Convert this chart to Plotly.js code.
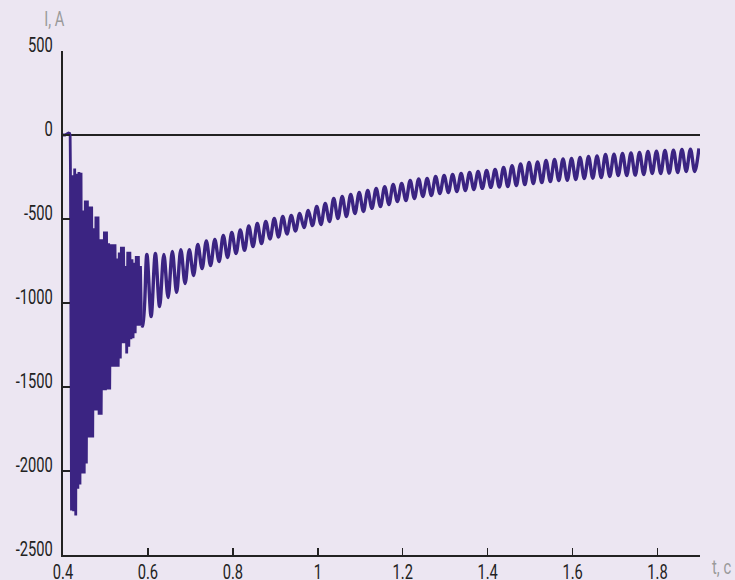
<!DOCTYPE html>
<html><head><meta charset="utf-8">
<script src="https://cdn.plot.ly/plotly-3.0.1.min.js"></script>
<style>html,body{margin:0;padding:0;background:#ece6f2;}</style>
</head><body><div id="chart" style="width:735px;height:580px;"></div>
<script>
// Pre-fault samples (time, current)
const preT = [0.400, 0.405, 0.410, 0.413, 0.4155, 0.4168];
const preI = [0, 0, 8, 12, 10, 0];

// Dense transient section: alternating upper / lower excursions, sampled every 0.0025 s
const denseStart = 0.4175;
const denseStep = 0.0025;
const denseHi = [-200, -240, -200, -230, -220, -225, -450, -390, -390, -425, -425, -555, -485, -485, -620, -620, -575,
  -575, -645, -650, -650, -650, -735, -700, -665, -665, -780, -695, -695, -740, -760, -720, -720, -780];
const denseLo = [-2235, -2240, -2265, -2105, -2080, -2015, -2015, -1955, -1800, -1800, -1800, -1640, -1640, -1665,
  -1665, -1520, -1520, -1515, -1515, -1380, -1380, -1380, -1380, -1330, -1240, -1240, -1300, -1260, -1215, -1210,
  -1180, -1135, -1135, -1135];

// 50 Hz section: troughs and peaks, half-period 0.01 s
const waveStart = 0.5875;
const waveStep = 0.01;
const waveTrough = [-1137, -1080, -1021, -967, -937, -884, -836, -795, -777, -753, -729, -705, -687, -664, -646, -619,
  -607, -589, -571, -551, -539, -533, -515, -497, -485, -467, -455, -437, -426, -414, -396, -390, -378, -366, -360,
  -348, -342, -336, -330, -324, -318, -312, -310, -307, -301, -295, -289, -283, -277, -271, -270, -265, -259, -257,
  -253, -247, -241, -241, -239, -235, -229, -229, -227, -223, -217, -217];
const wavePeak = [-711, -705, -711, -693, -682, -682, -652, -631, -622, -598, -580, -565, -542, -527, -515, -497, -485,
  -479, -467, -449, -426, -408, -378, -366, -354, -342, -330, -318, -307, -295, -289, -271, -262, -259, -247, -241,
  -235, -229, -223, -217, -211, -205, -193, -182, -173, -164, -160, -152, -146, -143, -140, -134, -128, -125, -116,
  -114, -110, -107, -104, -98, -96, -92, -90, -86, -84, -80];

const xTickVals = [0.4, 0.6, 0.8, 1.0, 1.2, 1.4, 1.6, 1.8];
const xTickText = ['0.4', '0.6', '0.8', '1', '1.2', '1.4', '1.6', '1.8'];
const yTickVals = [500, 0, -500, -1000, -1500, -2000, -2500];
const yTickText = ['500', '0', '-500', '-1000', '-1500', '-2000', '-2500'];

const lineColor = '#3b2482';
const bg = '#ece6f2';
const fontFam = 'Roboto, "DejaVu Sans", sans-serif';
const tickFont = {family: fontFam, size: 21, color: '#222'};

// build traces
const x1 = preT.slice(), y1 = preI.slice();
for (let k = 0; k < denseHi.length; k++) {
  x1.push(denseStart + 2 * k * denseStep); y1.push(denseHi[k]);
  x1.push(denseStart + (2 * k + 1) * denseStep); y1.push(denseLo[k]);
}
const x2 = [x1[x1.length - 1]], y2 = [y1[y1.length - 1]];
for (let m = 0; m < waveTrough.length; m++) {
  x2.push(waveStart + 2 * m * waveStep); y2.push(waveTrough[m]);
  x2.push(waveStart + (2 * m + 1) * waveStep); y2.push(wavePeak[m]);
}

const traces = [
  {x: x1, y: y1, type: 'scatter', mode: 'lines', line: {color: lineColor, width: 2.8, shape: 'linear'}, hoverinfo: 'skip'},
  {x: x2, y: y2, type: 'scatter', mode: 'lines', line: {color: lineColor, width: 3.4, shape: 'spline', smoothing: 1}, hoverinfo: 'skip'}
];

const layout = {
  width: 735, height: 580,
  margin: {l: 63, r: 35, t: 51, b: 25},
  paper_bgcolor: bg, plot_bgcolor: bg,
  showlegend: false,
  xaxis: {
    range: [0.4, 1.9], tickvals: xTickVals, ticktext: xTickText,
    showgrid: false, zeroline: false, showline: true, linecolor: '#222', linewidth: 2,
    ticks: 'inside', ticklen: 7, tickwidth: 1.5, tickcolor: '#222', tickfont: tickFont
  },
  yaxis: {
    range: [-2500, 500], tickvals: yTickVals, ticktext: yTickText,
    showgrid: false, zeroline: true, zerolinecolor: '#222', zerolinewidth: 1.5,
    showline: true, linecolor: '#222', linewidth: 2,
    ticks: 'inside', ticklen: 7, tickwidth: 1.5, tickcolor: '#222', tickfont: tickFont,
    ticklabelstandoff: 4, ticklabelshift: -6
  },
  annotations: [
    {text: 'I, A', xref: 'paper', yref: 'paper', x: -0.013, y: 1.0, xanchor: 'center', yanchor: 'bottom', yshift: 18,
      showarrow: false, font: {family: fontFam, size: 21, color: '#9a9a9a'}},
    {text: 't, c', xref: 'paper', yref: 'paper', x: 1.0, y: 0, xanchor: 'left', yanchor: 'middle', xshift: 6, yshift: -12,
      showarrow: false, font: {family: fontFam, size: 21, color: '#9a9a9a'}}
  ]
};

Plotly.newPlot('chart', traces, layout, {displayModeBar: false, staticPlot: true}).then(function () {
  // condensed look of the original lettering
  document.querySelectorAll('.xtick text, .ytick text, .annotation-text').forEach(function (t) {
    const w = t.getComputedTextLength();
    t.setAttribute('textLength', (w * 0.7).toFixed(1));
    t.setAttribute('lengthAdjust', 'spacingAndGlyphs');
  });
  document.querySelectorAll('.xtick text').forEach(function (t) { t.setAttribute('dy', '-3'); });
});
</script>
</body></html>
